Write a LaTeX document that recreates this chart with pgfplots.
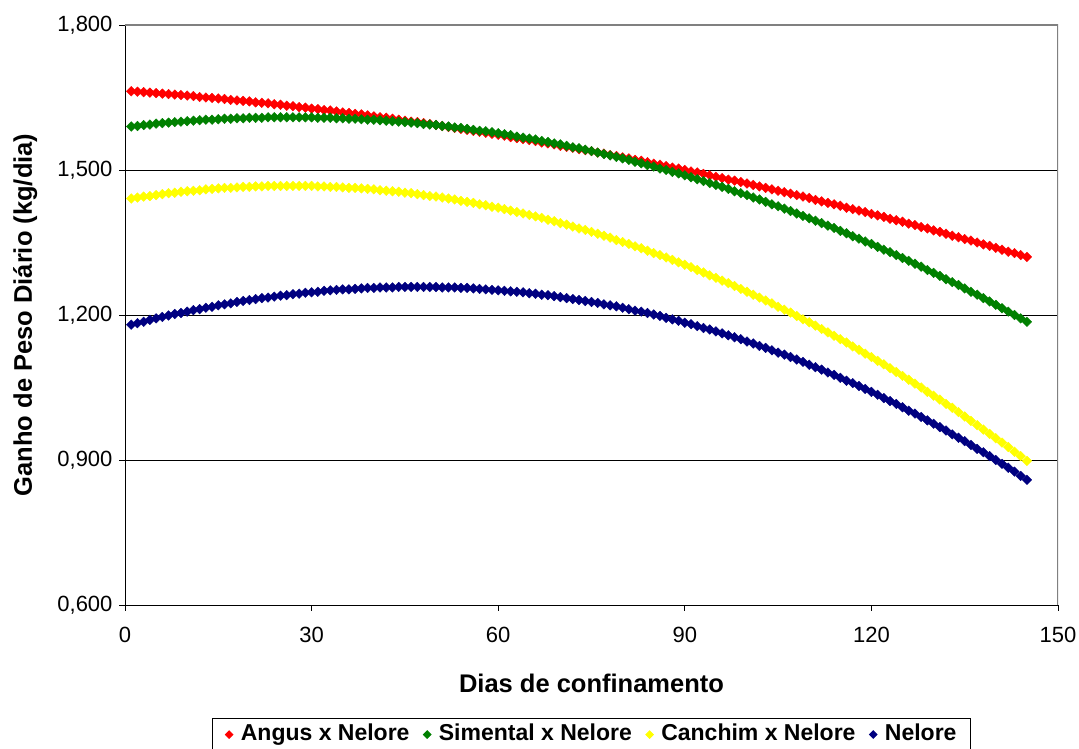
\documentclass[border=0pt]{standalone}
\usepackage{fontspec}
\setmainfont{Liberation Sans}
\usepackage{pgfplots}
\pgfplotsset{compat=1.18}
\usepackage{pgfplotstable}

\definecolor{angus}{RGB}{255,0,0}
\definecolor{simental}{RGB}{0,128,0}
\definecolor{canchim}{RGB}{255,255,0}
\definecolor{nelore}{RGB}{0,0,128}

% Ganho de peso diario (kg/dia) estimado por dia de confinamento
\pgfplotstableread{
day angus simental canchim nelore
1 1.663 1.590 1.441 1.180
2 1.662 1.591 1.443 1.183
3 1.661 1.593 1.445 1.186
4 1.660 1.594 1.446 1.190
5 1.659 1.596 1.448 1.193
6 1.658 1.597 1.450 1.196
7 1.657 1.598 1.452 1.199
8 1.656 1.599 1.453 1.202
9 1.655 1.600 1.455 1.204
10 1.654 1.601 1.456 1.207
11 1.653 1.602 1.457 1.210
12 1.651 1.603 1.458 1.212
13 1.650 1.604 1.460 1.215
14 1.649 1.604 1.461 1.217
15 1.648 1.605 1.462 1.220
16 1.647 1.606 1.463 1.222
17 1.645 1.606 1.463 1.224
18 1.644 1.607 1.464 1.227
19 1.643 1.607 1.465 1.229
20 1.642 1.608 1.465 1.231
21 1.640 1.608 1.466 1.233
22 1.639 1.608 1.466 1.235
23 1.638 1.609 1.467 1.236
24 1.636 1.609 1.467 1.238
25 1.635 1.609 1.467 1.240
26 1.633 1.609 1.467 1.241
27 1.632 1.609 1.467 1.243
28 1.630 1.609 1.467 1.244
29 1.629 1.609 1.467 1.246
30 1.627 1.609 1.467 1.247
31 1.626 1.608 1.466 1.248
32 1.624 1.608 1.466 1.250
33 1.623 1.608 1.465 1.251
34 1.621 1.607 1.465 1.252
35 1.619 1.607 1.464 1.253
36 1.618 1.606 1.463 1.253
37 1.616 1.606 1.463 1.254
38 1.615 1.605 1.462 1.255
39 1.613 1.604 1.461 1.256
40 1.611 1.604 1.460 1.256
41 1.609 1.603 1.458 1.257
42 1.608 1.602 1.457 1.257
43 1.606 1.601 1.456 1.257
44 1.604 1.600 1.455 1.258
45 1.602 1.599 1.453 1.258
46 1.600 1.598 1.452 1.258
47 1.599 1.597 1.450 1.258
48 1.597 1.595 1.448 1.258
49 1.595 1.594 1.446 1.258
50 1.593 1.593 1.445 1.258
51 1.591 1.591 1.443 1.257
52 1.589 1.590 1.441 1.257
53 1.587 1.588 1.439 1.257
54 1.585 1.587 1.436 1.256
55 1.583 1.585 1.434 1.256
56 1.581 1.583 1.432 1.255
57 1.579 1.581 1.429 1.254
58 1.577 1.580 1.427 1.253
59 1.575 1.578 1.424 1.252
60 1.573 1.576 1.422 1.251
61 1.571 1.574 1.419 1.250
62 1.568 1.572 1.416 1.249
63 1.566 1.569 1.413 1.248
64 1.564 1.567 1.410 1.247
65 1.562 1.565 1.407 1.245
66 1.560 1.563 1.404 1.244
67 1.557 1.560 1.401 1.242
68 1.555 1.558 1.397 1.241
69 1.553 1.555 1.394 1.239
70 1.550 1.553 1.390 1.237
71 1.548 1.550 1.387 1.235
72 1.546 1.547 1.383 1.233
73 1.543 1.545 1.379 1.231
74 1.541 1.542 1.376 1.229
75 1.539 1.539 1.372 1.227
76 1.536 1.536 1.368 1.225
77 1.534 1.533 1.364 1.222
78 1.531 1.530 1.360 1.220
79 1.529 1.527 1.355 1.218
80 1.526 1.524 1.351 1.215
81 1.524 1.521 1.347 1.212
82 1.521 1.517 1.342 1.209
83 1.519 1.514 1.338 1.207
84 1.516 1.510 1.333 1.204
85 1.513 1.507 1.328 1.201
86 1.511 1.503 1.324 1.198
87 1.508 1.500 1.319 1.194
88 1.505 1.496 1.314 1.191
89 1.503 1.493 1.309 1.188
90 1.500 1.489 1.304 1.184
91 1.497 1.485 1.299 1.181
92 1.495 1.481 1.293 1.177
93 1.492 1.477 1.288 1.173
94 1.489 1.473 1.282 1.170
95 1.486 1.469 1.277 1.166
96 1.483 1.465 1.271 1.162
97 1.480 1.461 1.266 1.158
98 1.478 1.456 1.260 1.154
99 1.475 1.452 1.254 1.150
100 1.472 1.448 1.248 1.145
101 1.469 1.443 1.242 1.141
102 1.466 1.439 1.236 1.136
103 1.463 1.434 1.230 1.132
104 1.460 1.429 1.224 1.127
105 1.457 1.425 1.217 1.122
106 1.454 1.420 1.211 1.118
107 1.451 1.415 1.205 1.113
108 1.448 1.410 1.198 1.108
109 1.445 1.405 1.191 1.103
110 1.442 1.400 1.185 1.097
111 1.438 1.395 1.178 1.092
112 1.435 1.390 1.171 1.087
113 1.432 1.385 1.164 1.081
114 1.429 1.380 1.157 1.076
115 1.426 1.374 1.150 1.070
116 1.422 1.369 1.143 1.064
117 1.419 1.363 1.135 1.059
118 1.416 1.358 1.128 1.053
119 1.413 1.352 1.120 1.047
120 1.409 1.347 1.113 1.041
121 1.406 1.341 1.105 1.035
122 1.403 1.335 1.098 1.028
123 1.399 1.330 1.090 1.022
124 1.396 1.324 1.082 1.016
125 1.393 1.318 1.074 1.009
126 1.389 1.312 1.066 1.002
127 1.386 1.306 1.058 0.996
128 1.382 1.300 1.050 0.989
129 1.379 1.293 1.041 0.982
130 1.375 1.287 1.033 0.975
131 1.372 1.281 1.025 0.968
132 1.368 1.274 1.016 0.961
133 1.364 1.268 1.008 0.953
134 1.361 1.262 0.999 0.946
135 1.357 1.255 0.990 0.939
136 1.354 1.248 0.981 0.931
137 1.350 1.242 0.972 0.923
138 1.346 1.235 0.963 0.916
139 1.343 1.228 0.954 0.908
140 1.339 1.221 0.945 0.900
141 1.335 1.214 0.936 0.892
142 1.331 1.207 0.927 0.884
143 1.328 1.200 0.917 0.876
144 1.324 1.193 0.908 0.867
145 1.320 1.186 0.898 0.859
}\gpd

\begin{document}
\begin{tikzpicture}
\useasboundingbox (0,0) rectangle (1079pt,749pt);
\begin{axis}[
  at={(125pt,144pt)}, anchor=south west,
  scale only axis, width=933pt, height=580pt,
  xmin=0, xmax=150, ymin=0.6, ymax=1.8,
  xtick={0,30,...,150},
  ytick={0.6,0.9,1.2,1.5,1.8},
  axis x line*=bottom, axis y line*=left,
  axis line style={black, line width=0.9pt},
  ymajorgrids,
  major grid style={black, line width=0.9pt},
  tick align=outside, major tick length=6pt,
  tick style={black, line width=0.9pt},
  /pgf/number format/assume math mode=true,
  ticklabel style={font=\fontsize{22}{26}\selectfont},
  yticklabel style={
    /pgf/number format/fixed,
    /pgf/number format/fixed zerofill,
    /pgf/number format/precision=3,
    /pgf/number format/use comma,
    xshift=-3pt},
  xticklabel style={yshift=-13pt},
  xlabel={Dias de confinamento},
  ylabel={Ganho de Peso Diário (kg/dia)},
  xlabel style={at={(0.5,-0.1345)}, anchor=center, font=\bfseries\fontsize{25.5}{30}\selectfont},
  ylabel style={at={(-0.107,0.5)}, anchor=center, font=\bfseries\fontsize{25.5}{30}\selectfont},
  legend image code/.code={\draw[#1, mark size=2.6pt] plot coordinates {(0pt,0pt)};},
  legend style={at={(0.5,-0.195)}, anchor=north, legend columns=4,
    draw=black, line width=1pt,
    font=\bfseries\fontsize{23}{27}\selectfont,
    nodes={inner sep=1pt, text height=17pt, text depth=5pt},
    inner xsep=13pt, inner ysep=4pt,
    /tikz/every odd column/.append style={column sep=7pt},
    /tikz/every even column/.append style={column sep=13pt}},
  every axis plot/.append style={only marks, mark=square*, mark size=3.4pt},
]
\addplot[color=angus, mark options={rotate=45, fill=angus, draw=angus}] table[x=day, y=angus] {\gpd};
\addplot[color=simental, mark options={rotate=45, fill=simental, draw=simental}] table[x=day, y=simental] {\gpd};
\addplot[color=canchim, mark options={rotate=45, fill=canchim, draw=canchim}] table[x=day, y=canchim] {\gpd};
\addplot[color=nelore, mark options={rotate=45, fill=nelore, draw=nelore}] table[x=day, y=nelore] {\gpd};
\legend{Angus x Nelore, Simental x Nelore, Canchim x Nelore, Nelore}
% frame on the top and right of the plot area
\draw[gray, line width=1.2pt] (rel axis cs:0,1) -- (rel axis cs:1,1) -- (rel axis cs:1,0);
\end{axis}
\end{tikzpicture}
\end{document}
